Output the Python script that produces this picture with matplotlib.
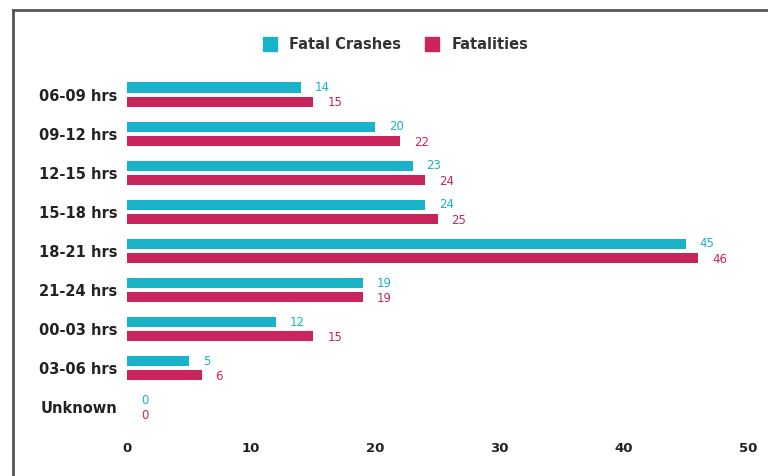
import numpy as np
import matplotlib
matplotlib.use('Agg')
import matplotlib.pyplot as plt
from matplotlib.lines import Line2D

# data
hours = ['06-09 hrs', '09-12 hrs', '12-15 hrs', '15-18 hrs', '18-21 hrs',
         '21-24 hrs', '00-03 hrs', '03-06 hrs', 'Unknown']
fatal_crashes = [14, 20, 23, 24, 45, 19, 12, 5, 0]
fatalities = [15, 22, 24, 25, 46, 19, 15, 6, 0]
x_ticks = [0, 10, 20, 30, 40, 50]

teal = '#19B2C8'
crimson = '#C9245B'

plt.rcParams['font.family'] = ['DejaVu Sans']

fig = plt.figure(figsize=(7.68, 4.76), dpi=100)
ax = fig.add_axes([127/768, 1-427/476, 621/768, 352/476])

y = np.arange(len(hours))
h = 0.26
off = 0.18
ax.barh(y - off, fatal_crashes, height=h, color=teal, label='Fatal Crashes')
ax.barh(y + off, fatalities, height=h, color=crimson, label='Fatalities')

# value labels next to bar ends
for i in range(len(hours)):
    ax.annotate(str(fatal_crashes[i]), (fatal_crashes[i], y[i] - off), xytext=(10, 0),
                textcoords='offset points', color=teal, fontsize=8.5, va='center', ha='left')
    ax.annotate(str(fatalities[i]), (fatalities[i], y[i] + off), xytext=(10, -1),
                textcoords='offset points', color=crimson, fontsize=8.5, va='center', ha='left')

ax.set_xlim(0, 50)
ax.set_ylim(len(hours) - 0.5, -0.5)
ax.set_xticks(x_ticks)
ax.set_xticklabels([str(t) for t in x_ticks], fontweight='bold', fontsize=9.5, color='#222222')
ax.set_yticks(y)
ax.set_yticklabels(hours, fontweight='bold', fontsize=10.5, color='#222222')
ax.tick_params(axis='both', length=0)
ax.tick_params(axis='x', pad=11)
ax.tick_params(axis='y', pad=7)
for s in ax.spines.values():
    s.set_visible(False)

# legend at the top
handles = [Line2D([], [], marker='s', linestyle='', markersize=10.5, color=teal),
           Line2D([], [], marker='s', linestyle='', markersize=10.5, color=crimson)]
leg = fig.legend(handles, ['Fatal Crashes', 'Fatalities'], loc='center', ncol=2,
                 bbox_to_anchor=(0.51, 0.907), frameon=False, handletextpad=0.35,
                 columnspacing=1.1, prop={'weight': 'bold', 'size': 10.5})
for t in leg.get_texts():
    t.set_color('#333333')

# frame lines on left and top
fig.add_artist(Line2D([13/768, 13/768], [0, 1-10/476], transform=fig.transFigure,
                      color='#555555', linewidth=2))
fig.add_artist(Line2D([13/768, 1], [1-10/476, 1-10/476], transform=fig.transFigure,
                      color='#555555', linewidth=2))

fig.savefig('out.png', dpi=100)
